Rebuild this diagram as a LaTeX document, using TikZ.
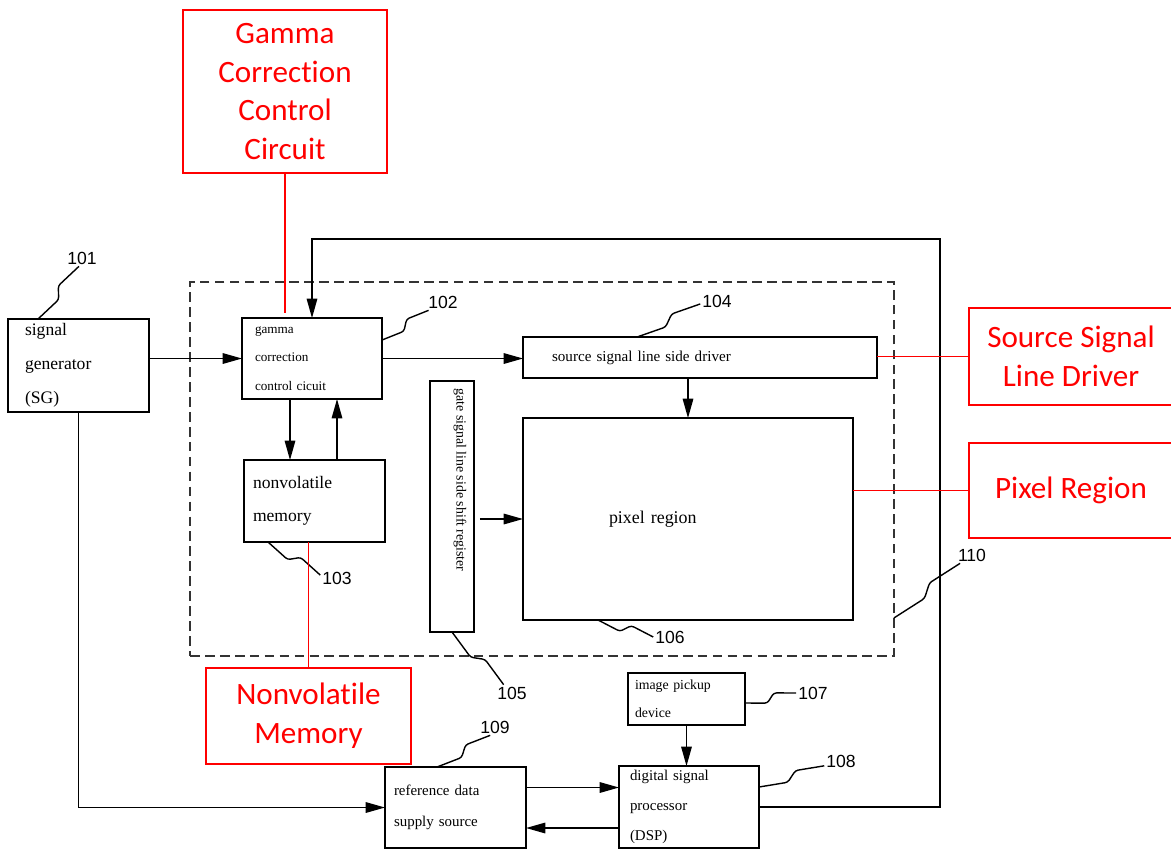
\documentclass[tikz,border=0pt]{standalone}
\usepackage{fontspec}
\setmainfont{Liberation Serif}
\newfontfamily\rotulo{Liberation Sans}
\newfontfamily\nota[Ligatures=NoCommon]{Carlito}
\usepackage{tikz}
\usetikzlibrary{positioning,arrows.meta,calc}
\definecolor{rojo}{HTML}{FF0000}

\begin{document}
\begin{tikzpicture}[x=0.02cm, y=-0.02cm,
  bloque/.style={draw, line width=0.8pt, align=left, inner sep=0pt, outer sep=0pt},
  marco/.style={draw=rojo, line width=1.4pt, align=center, text=rojo, inner sep=0pt, outer sep=0pt,
    font=\nota\fontsize{17.7}{22}\selectfont},
  flecha/.style={-{Triangle[length=11pt,width=6pt]}, line width=0.8pt},
  enlace/.style={rojo, line width=1.1pt},
  num/.style={font=\rotulo\fontsize{10}{12}\selectfont, inner sep=1pt},
  guia/.style={line width=0.8pt, rounded corners=1.5pt,
    to path={-- ($(\tikztostart)!0.42!(\tikztotarget)!2.5pt!-90:(\tikztotarget)$)
             -- ($(\tikztostart)!0.58!(\tikztotarget)!2.5pt!90:(\tikztotarget)$) -- (\tikztotarget)}}
]
  \useasboundingbox (0,0) rectangle (1171,850);

  % panel (110)
  \node[draw=black!80, line width=0.8pt, dash pattern=on 5.5pt off 3pt, minimum width=14.08cm, minimum height=7.48cm,
        inner sep=0pt, outer sep=0pt] (panel) at (542,469) {};

  % bloques
  \node[bloque, minimum width=2.82cm, minimum height=1.86cm, text width=2.14cm,
        font=\fontsize{10}{19.3}\selectfont] (sg) at (78.5,365.5) {signal\\generator\\(SG)};
  \node[bloque, minimum width=2.80cm, minimum height=1.62cm, text width=2.28cm,
        font=\fontsize{7.5}{16.4}\selectfont] (gamma) at (312,358.5) {gamma\\correction\\control cicuit};
  \node[bloque, minimum width=2.82cm, minimum height=1.64cm, text width=2.46cm,
        font=\fontsize{10}{18.7}\selectfont] (mem) at (314.5,501) {nonvolatile\\memory};
  \node[bloque, minimum width=7.08cm, minimum height=0.82cm, text width=5.92cm,
        font=\fontsize{8.6}{10}\selectfont] (src) at (700,357.5) {source signal line side driver};
  \node[bloque, minimum width=6.60cm, minimum height=4.04cm, text width=3.16cm,
        font=\fontsize{10.2}{12}\selectfont] (pix) at (688,519) {pixel region};
  \node[bloque, minimum width=0.88cm, minimum height=5.02cm] (gate) at (452,506.5) {};
  \node[rotate=-90, inner sep=0pt, font=\fontsize{7.9}{9}\selectfont] (gatetxt) at (460,480)
        {gate signal line side shift register};
  \node[bloque, minimum width=2.34cm, minimum height=1.04cm, text width=2.06cm,
        font=\fontsize{7.85}{15.9}\selectfont] (img) at (686.5,699) {image pickup\\device};
  \node[bloque, minimum width=2.80cm, minimum height=1.64cm, text width=2.36cm,
        font=\fontsize{8.5}{17}\selectfont] (dsp) at (689,807) {digital signal\\processor\\(DSP)};
  \node[bloque, minimum width=2.82cm, minimum height=1.62cm, text width=2.46cm,
        font=\fontsize{8.5}{18}\selectfont] (ref) at (455.5,807.5) {reference data\\supply source};

  % flechas
  \draw[flecha] (gamma.west -| sg.east) -- (gamma.west);
  \draw[flecha] (gamma.east) -- (gamma.east -| src.west);
  \coordinate (gbaja) at ($(gamma.south)+(-22,0)$);
  \draw[flecha] (gbaja) -- (gbaja |- mem.north);
  \coordinate (msube) at ($(mem.north)+(22.5,0)$);
  \draw[flecha] (msube) -- (msube |- gamma.south);
  \draw[flecha] (pix.north |- src.south) -- (pix.north);
  \draw[flecha] ($(gate.east |- pix.west)+(6,0)$) -- (pix.west);
  \draw[flecha] (img.south) -- (img.south |- dsp.north);
  \coordinate (rd) at ($(ref.east)+(0,-20)$);
  \draw[flecha] (rd) -- (rd -| dsp.west);
  \coordinate (dr) at ($(dsp.west)+(0,21)$);
  \draw[flecha] (dr) -- (dr -| ref.east);
  \draw[flecha] (sg.south) |- (ref.west);
  \coordinate (vuelta) at (940,239);
  \draw[flecha] (dsp.east) -| (vuelta) -| (gamma.north);

  % numeros
  \node[num] (l101) at (82,258) {101};
  \node[num] (l102) at (443,302) {102};
  \node[num] (l103) at (337,578) {103};
  \node[num] (l104) at (717,301) {104};
  \node[num] (l105) at (512,693) {105};
  \node[num] (l106) at (670,637) {106};
  \node[num] (l107) at (813,693) {107};
  \node[num] (l108) at (841,761) {108};
  \node[num] (l109) at (495,727) {109};
  \node[num] (l110) at (972,555) {110};
  \coordinate (t101) at ($(sg.north west)+(30,0)$);
  \coordinate (t102) at ($(gamma.north east)+(0,22)$);
  \coordinate (t103) at ($(mem.south west)+(24,0)$);
  \coordinate (t104) at ($(src.north west)+(114,0)$);
  \coordinate (t105) at (gate.south);
  \coordinate (t106) at ($(pix.south west)+(75,0)$);
  \coordinate (t107) at ($(img.north east)+(0,30)$);
  \coordinate (t108) at ($(dsp.north east)+(0,21)$);
  \coordinate (t109) at ($(ref.north west)+(52,0)$);
  \coordinate (t110) at ($(panel.south east)+(0,-38)$);
  \draw[guia] (t101) to (l101.250);
  \draw[guia] (t102) to (l102.210);
  \draw[guia] (t103) to (l103.170);
  \draw[guia] (t104) to (l104.190);
  \draw[guia] (t105) to (l105.135);
  \draw[guia] (t106) to (l106.west);
  \draw[guia] (t107) to (l107.west);
  \draw[guia] (t108) to (l108.196);
  \draw[guia] (t109) to (l109.240);
  \draw[guia] (t110) to (l110.215);

  % notas en rojo
  \node[marco, minimum width=4.08cm, minimum height=3.26cm] (rgamma) at (285,91.5)
        {Gamma\\Correction\\Control\\Circuit};
  \node[marco, minimum width=4.10cm, minimum height=1.92cm] (rmem) at (308.5,716) {Nonvolatile\\Memory};
  \node[marco, minimum width=4.08cm, minimum height=1.94cm] (rsrc) at (1071,356.5) {Source Signal\\Line Driver};
  \node[marco, minimum width=4.08cm, minimum height=1.90cm] (rpix) at (1071,490.5) {Pixel Region};
  \draw[enlace] (rgamma.south) -- ($(rgamma.south |- gamma.north)+(0,-5)$);
  \draw[enlace] (rmem.north) -- (rmem.north |- mem.south);
  \draw[enlace] (rsrc.west) -- (rsrc.west -| src.east);
  \draw[enlace] (rpix.west) -- (rpix.west -| pix.east);
\end{tikzpicture}
\end{document}
